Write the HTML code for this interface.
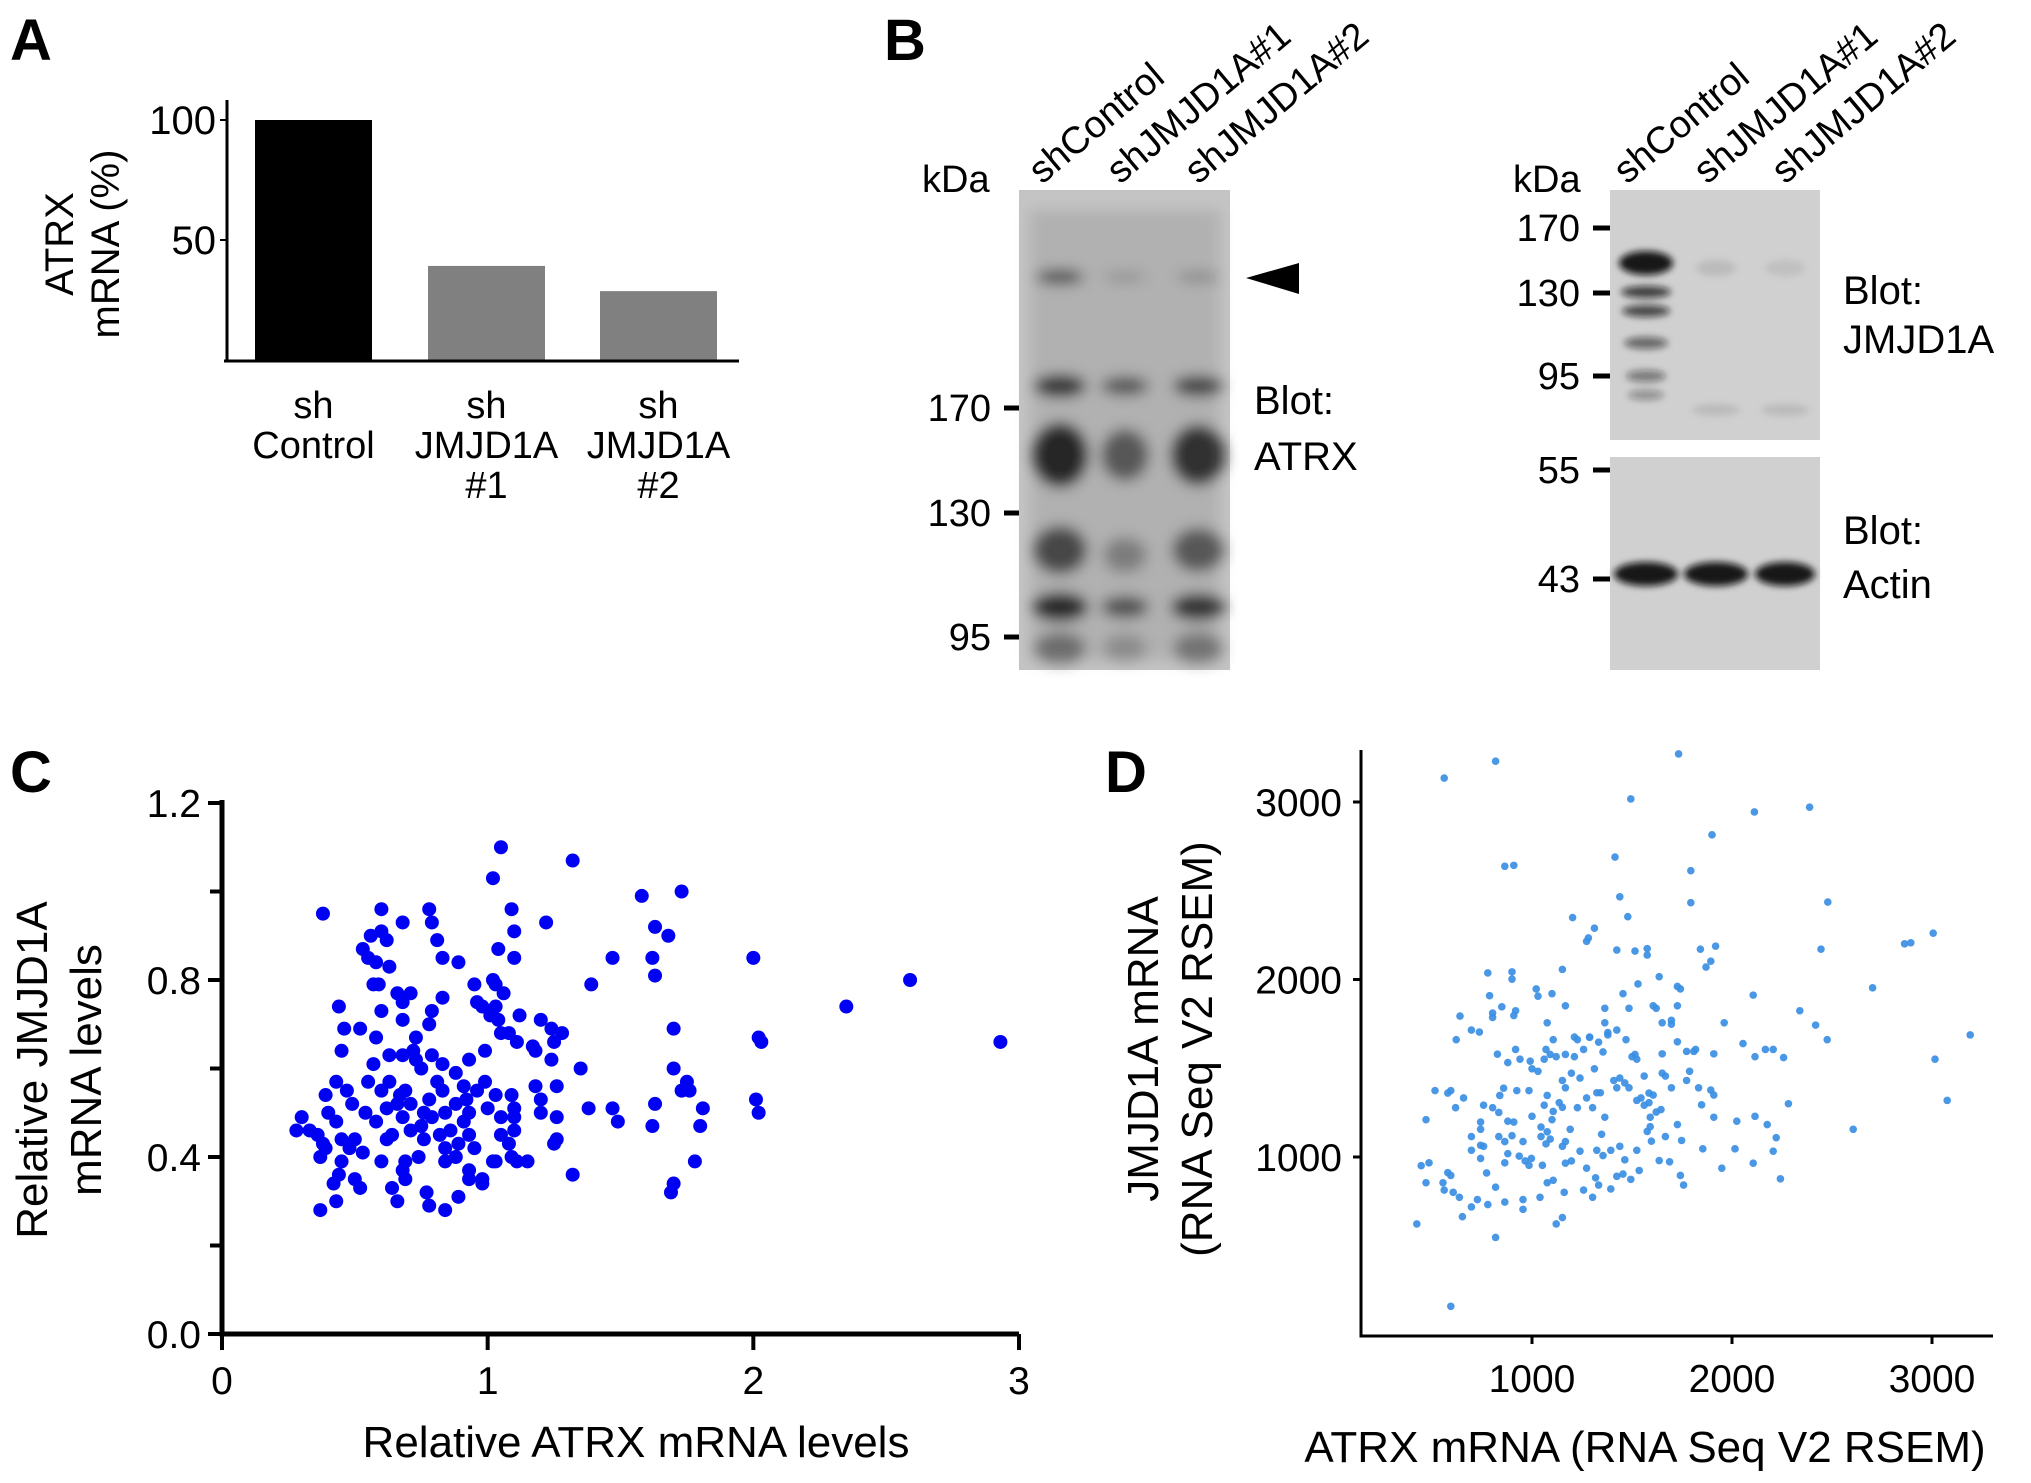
<!DOCTYPE html>
<html><head><meta charset="utf-8"><style>
html,body{margin:0;padding:0;background:#fff;}
svg{display:block;font-family:"Liberation Sans",Arial,sans-serif;}
</style></head><body>
<svg id="fig" width="2031" height="1483" viewBox="0 0 2031 1483" xmlns="http://www.w3.org/2000/svg">
<defs>
<filter id="blur6" x="-50%" y="-50%" width="200%" height="200%"><feGaussianBlur stdDeviation="7"/></filter>
<filter id="blur3" x="-50%" y="-50%" width="200%" height="200%"><feGaussianBlur stdDeviation="3.5"/></filter>
</defs>

<text x="10" y="60" font-size="58" font-weight="bold">A</text>
<text x="884" y="60" font-size="58" font-weight="bold">B</text>
<text x="10" y="792" font-size="58" font-weight="bold">C</text>
<text x="1105" y="792" font-size="58" font-weight="bold">D</text>

<g id="panelA"></g>

<g id="panelB">
  <g>
    <rect x="1019" y="190" width="211" height="480" fill="#c4c4c4"/>
    <g filter="url(#blur6)" fill="#1a1a1a">
      <rect x="1030" y="210" width="190" height="450" fill="#999" opacity="0.45"/>
      <ellipse cx="1060" cy="277" rx="24" ry="7" opacity="0.7"/>
      <ellipse cx="1125" cy="277" rx="22" ry="5" opacity="0.22"/>
      <ellipse cx="1198" cy="277" rx="22" ry="5" opacity="0.3"/>
      <ellipse cx="1060" cy="386" rx="26" ry="11" opacity="0.85"/>
      <ellipse cx="1125" cy="386" rx="24" ry="9" opacity="0.65"/>
      <ellipse cx="1198" cy="386" rx="25" ry="10" opacity="0.75"/>
      <ellipse cx="1060" cy="455" rx="28" ry="32" opacity="0.9"/>
      <ellipse cx="1125" cy="455" rx="24" ry="26" opacity="0.6"/>
      <ellipse cx="1198" cy="455" rx="27" ry="30" opacity="0.85"/>
      <ellipse cx="1060" cy="550" rx="27" ry="24" opacity="0.7"/>
      <ellipse cx="1125" cy="555" rx="22" ry="18" opacity="0.35"/>
      <ellipse cx="1198" cy="550" rx="26" ry="22" opacity="0.6"/>
      <ellipse cx="1060" cy="607" rx="28" ry="14" opacity="0.9"/>
      <ellipse cx="1125" cy="607" rx="24" ry="11" opacity="0.65"/>
      <ellipse cx="1198" cy="607" rx="27" ry="13" opacity="0.85"/>
      <ellipse cx="1060" cy="648" rx="26" ry="16" opacity="0.45"/>
      <ellipse cx="1125" cy="648" rx="22" ry="14" opacity="0.25"/>
      <ellipse cx="1198" cy="648" rx="25" ry="16" opacity="0.4"/>
    </g>
  </g>
  <polygon points="1246,278 1299,263 1299,294" fill="#000"/>
  <text x="922" y="192" font-size="38">kDa</text>
  <g font-size="38" text-anchor="end">
    <text x="991" y="421">170</text><text x="991" y="526">130</text><text x="991" y="650">95</text>
  </g>
  <g stroke="#000" stroke-width="5">
    <line x1="1004" y1="408" x2="1019" y2="408"/><line x1="1004" y1="513" x2="1019" y2="513"/><line x1="1004" y1="637" x2="1019" y2="637"/>
  </g>
  <text x="1254" y="414" font-size="40"><tspan x="1254">Blot:</tspan><tspan x="1254" dy="56">ATRX</tspan></text>
  <g font-size="38">
    <text transform="translate(1042,185) rotate(-40)">shControl</text>
    <text transform="translate(1120,185) rotate(-40)">shJMJD1A#1</text>
    <text transform="translate(1198,185) rotate(-40)">shJMJD1A#2</text>
  </g>

  <g>
    <rect x="1610" y="190" width="210" height="250" fill="#d0d0d0"/>
    <g filter="url(#blur3)" fill="#111">
      <ellipse cx="1646" cy="263" rx="27" ry="12" opacity="0.95"/>
      <ellipse cx="1646" cy="292" rx="25" ry="6" opacity="0.75"/>
      <ellipse cx="1646" cy="311" rx="24" ry="6" opacity="0.7"/>
      <ellipse cx="1646" cy="343" rx="22" ry="6" opacity="0.55"/>
      <ellipse cx="1646" cy="376" rx="20" ry="6" opacity="0.45"/>
      <ellipse cx="1646" cy="395" rx="18" ry="5" opacity="0.35"/>
      <ellipse cx="1716" cy="268" rx="20" ry="8" opacity="0.1"/>
      <ellipse cx="1785" cy="268" rx="20" ry="8" opacity="0.08"/>
      <ellipse cx="1716" cy="410" rx="24" ry="6" opacity="0.1"/>
      <ellipse cx="1785" cy="410" rx="24" ry="6" opacity="0.1"/>
    </g>
    <rect x="1610" y="457" width="210" height="213" fill="#d0d0d0"/>
    <g filter="url(#blur3)" fill="#0d0d0d">
      <ellipse cx="1646" cy="574" rx="32" ry="12" opacity="0.95"/>
      <ellipse cx="1716" cy="574" rx="32" ry="12" opacity="0.95"/>
      <ellipse cx="1785" cy="574" rx="30" ry="12" opacity="0.95"/>
    </g>
  </g>
  <text x="1513" y="192" font-size="38">kDa</text>
  <g font-size="38" text-anchor="end">
    <text x="1580" y="241">170</text><text x="1580" y="306">130</text><text x="1580" y="389">95</text>
    <text x="1580" y="483">55</text><text x="1580" y="592">43</text>
  </g>
  <g stroke="#000" stroke-width="5">
    <line x1="1593" y1="228" x2="1610" y2="228"/><line x1="1593" y1="293" x2="1610" y2="293"/><line x1="1593" y1="376" x2="1610" y2="376"/>
    <line x1="1593" y1="470" x2="1610" y2="470"/><line x1="1593" y1="579" x2="1610" y2="579"/>
  </g>
  <text font-size="40"><tspan x="1843" y="304">Blot:</tspan><tspan x="1843" y="353">JMJD1A</tspan></text>
  <text font-size="40"><tspan x="1843" y="544">Blot:</tspan><tspan x="1843" y="598">Actin</tspan></text>
  <g font-size="38">
    <text transform="translate(1627,185) rotate(-40)">shControl</text>
    <text transform="translate(1707,185) rotate(-40)">shJMJD1A#1</text>
    <text transform="translate(1785,185) rotate(-40)">shJMJD1A#2</text>
  </g>
</g>

<g id="panelC"></g>
<g id="panelD"></g>
</svg>

<script>
// ---------- Panel A data ----------
const aCategories = [["sh","Control"],["sh","JMJD1A","#1"],["sh","JMJD1A","#2"]];
const aValues = [100, 39.2, 28.7];
const aColors = ["#000000","#808080","#808080"];
const aTicks = [50, 100];

// ---------- Panel C data ----------
const cX = [1.05,1.02,1.32,1.58,1.73,0.38,0.60,0.68,0.78,0.79,1.09,1.10,1.22,1.47,1.63,1.68,1.62,1.63,2.00,1.39,2.35,2.59,2.93,1.70,2.02,2.03,1.35,1.70,1.75,1.76,1.73,1.38,1.47,1.49,1.63,1.62,1.81,1.80,1.78,1.70,1.69,2.01,2.02,1.32,1.04,1.10,0.89,0.81,0.83,1.02,1.06,1.03,0.95,0.96,1.12,1.20,1.28,1.25,1.18,1.11,0.99,1.05,0.83,0.79,0.71,0.68,0.66,0.59,0.57,0.53,0.55,0.58,0.60,0.56,0.62,0.44,0.46,0.45,0.52,0.58,0.63,0.57,0.55,0.60,0.63,0.67,0.73,0.78,0.72,0.73,0.75,0.79,0.83,0.81,0.83,0.78,0.71,0.69,0.66,0.62,0.54,0.58,0.62,0.64,0.71,0.68,0.76,0.75,0.79,0.82,0.84,0.91,0.93,0.88,0.92,0.96,0.99,1.03,1.00,1.05,1.05,1.08,1.09,1.03,1.02,0.98,0.98,0.93,0.93,0.95,0.93,0.89,0.88,0.84,0.84,0.86,0.76,0.74,0.69,0.68,0.69,0.64,0.66,0.77,0.78,0.84,0.89,0.43,0.37,0.37,0.42,0.44,0.50,0.52,0.48,0.50,0.45,0.43,0.40,0.39,0.43,0.47,0.49,0.36,0.38,0.33,0.28,0.30,0.39,0.45,0.53,0.60,1.03,1.04,0.98,1.01,1.08,1.17,1.24,1.24,1.26,1.26,1.26,1.25,1.20,1.18,1.20,1.11,1.15,1.09,1.10,1.10,1.10,0.93,0.91,0.88,0.68,0.63,0.60,0.68];
const cY = [1.10,1.03,1.07,0.99,1.00,0.95,0.96,0.93,0.96,0.93,0.96,0.91,0.93,0.85,0.92,0.90,0.85,0.81,0.85,0.79,0.74,0.80,0.66,0.69,0.67,0.66,0.60,0.60,0.57,0.55,0.55,0.51,0.51,0.48,0.52,0.47,0.51,0.47,0.39,0.34,0.32,0.53,0.50,0.36,0.87,0.85,0.84,0.89,0.85,0.80,0.77,0.79,0.79,0.75,0.72,0.71,0.68,0.66,0.64,0.66,0.64,0.68,0.76,0.73,0.77,0.75,0.77,0.79,0.79,0.87,0.85,0.84,0.91,0.90,0.89,0.74,0.69,0.64,0.69,0.67,0.63,0.61,0.57,0.55,0.57,0.54,0.67,0.70,0.64,0.62,0.60,0.63,0.61,0.57,0.55,0.53,0.52,0.55,0.52,0.51,0.50,0.48,0.44,0.45,0.46,0.49,0.50,0.47,0.49,0.45,0.50,0.48,0.50,0.52,0.53,0.55,0.57,0.54,0.51,0.49,0.45,0.43,0.40,0.39,0.39,0.35,0.34,0.35,0.37,0.42,0.45,0.43,0.40,0.39,0.42,0.46,0.44,0.40,0.39,0.37,0.35,0.33,0.30,0.32,0.29,0.28,0.31,0.30,0.28,0.40,0.34,0.36,0.35,0.33,0.42,0.44,0.44,0.48,0.50,0.54,0.57,0.55,0.52,0.45,0.43,0.46,0.46,0.49,0.42,0.39,0.41,0.39,0.74,0.71,0.74,0.72,0.68,0.65,0.69,0.62,0.56,0.49,0.44,0.43,0.53,0.56,0.50,0.39,0.39,0.54,0.51,0.49,0.46,0.62,0.56,0.59,0.63,0.83,0.73,0.71];
const cXTicks = [0,1,2,3];
const cYTicks = ["0.0","0.4","0.8","1.2"];
const cYMinor = [0.2,0.6,1.0];

// ---------- Panel D data ----------
const dX = [561,818,1733,1494,2112,2388,1900,1415,864,909,1794,1439,1794,2479,1479,1203,1312,1282,1273,1424,1515,1576,1576,1842,1918,1894,1870,2445,2863,2894,3006,2703,2106,2339,2418,2476,3191,3015,3076,2606,2282,2258,2206,2167,2115,2055,2176,2115,2024,2015,2106,2206,2221,2242,1949,1854,1727,1748,1688,1758,1742,1667,1591,1524,1536,1494,1455,1424,1464,1439,1394,1324,1348,1364,1303,1273,1227,1191,1167,1152,1197,1167,1240,1273,1318,1333,1303,1258,1394,1161,1106,1076,1052,985,936,966,997,864,879,864,834,758,743,773,818,864,955,955,1040,779,727,697,637,606,594,561,555,470,446,652,424,818,1121,1152,594,470,594,579,618,658,697,743,697,743,743,758,803,834,839,858,924,985,909,879,900,955,1000,1045,1076,1091,1070,1045,1100,1106,1136,1076,1061,1000,1030,1061,1091,1121,1070,1106,1167,1212,1227,1288,1258,1312,1333,1355,1379,1409,1439,1464,1424,1485,1524,1545,1585,1561,1585,1561,1524,1500,1515,1470,1424,1379,1364,1364,1455,1485,1530,1606,1636,1621,1651,1697,1742,1727,1727,1697,1727,1773,1809,1818,1788,1773,1833,1894,1909,1848,1909,1909,1961,1651,1651,1667,1606,1697,1645,1621,1591,1576,1597,1636,1355,1324,1342,1152,1167,1197,1240,1152,1212,1288,1167,1076,1100,1030,1021,1152,900,918,909,849,803,900,779,788,737,697,621,640,803,827,879,918,940,991,515,485,579];
const dY = [3135,3230,3271,3017,2944,2971,2815,2690,2638,2643,2613,2466,2433,2436,2354,2349,2289,2234,2215,2166,2160,2174,2138,2171,2188,2103,2070,2171,2201,2207,2261,1953,1912,1824,1743,1661,1688,1551,1319,1156,1300,1560,1606,1606,1565,1639,1183,1229,1202,1046,965,1033,1109,877,937,1046,1183,1093,973,842,896,1115,1224,1038,924,874,904,891,984,1060,1038,1038,1128,1224,1278,1333,1278,1156,1087,1060,978,965,1033,937,883,842,773,814,820,801,869,855,953,953,1005,978,992,967,1019,1087,1115,1060,992,910,830,746,760,705,773,732,760,719,773,801,896,814,855,855,951,664,623,547,623,659,159,1210,1374,1360,1278,1333,1038,1066,1115,1197,1156,1292,1278,1251,1347,1388,1374,1374,1197,1202,1120,1087,1229,1169,1142,1101,1074,1115,1210,1257,1306,1347,1292,1497,1483,1551,1578,1565,1606,1661,1578,1565,1661,1674,1606,1497,1647,1592,1688,1431,1445,1417,1390,1390,1319,1333,1306,1292,1360,1456,1551,1565,1578,1661,1715,1701,1756,1838,1920,1838,1975,1852,2016,1838,1756,1748,1947,1961,1852,1770,1649,1595,1595,1606,1483,1431,1390,1377,1349,1294,1224,1581,1756,1472,1581,1456,1349,1390,1267,1253,1171,1144,1089,980,1008,1362,1362,1280,1390,1472,1445,1431,1676,1676,1852,1756,1920,1906,1947,2057,2002,1824,1797,1846,1811,2043,2037,1909,1704,1715,1661,1794,1786,1579,1532,1606,1551,1540,1374,967,912,830];
const dXTicks = [1000,2000,3000];
const dYTicks = [1000,2000,3000];

const NS = "http://www.w3.org/2000/svg";
function mk(parent, tag, attrs, text) {
  const e = document.createElementNS(NS, tag);
  for (const k in attrs) e.setAttribute(k, attrs[k]);
  if (text !== undefined) e.textContent = text;
  parent.appendChild(e);
  return e;
}

(function(){
  const g = document.getElementById('panelA');
  const y = v => 360 - v * 2.4;
  const barX = [255, 428, 600], barW = 117;
  aValues.forEach((v, i) => {
    const r = mk(g, 'rect', {x: barX[i], y: y(v), width: barW, height: 360 - y(v), fill: aColors[i]});
    
    
    const t = mk(g, 'text', {'font-size': 38, 'text-anchor': 'middle'});
    
    
    aCategories[i].forEach((line, j) => {
      mk(t, 'tspan', {x: barX[i] + barW / 2, y: 418 + j * 40}, line);
    });
  });
  const ax = mk(g, 'path', {d: 'M227,100 V361 M224,361 H739', stroke: '#000', 'stroke-width': 3, fill: 'none'});
  
  
  aTicks.forEach(v => {
    mk(g, 'line', {x1: 220, x2: 227, y1: y(v), y2: y(v), stroke: '#000', 'stroke-width': 2});
    const t = mk(g, 'text', {x: 216, y: y(v) + 14, 'font-size': 40, 'text-anchor': 'end'}, String(v));
    
    
  });
  const yt = mk(g, 'text', {transform: 'translate(83,244) rotate(-90)', 'font-size': 40, 'text-anchor': 'middle'});
  
  
  mk(yt, 'tspan', {x: 0, y: -10}, 'ATRX');
  mk(yt, 'tspan', {x: 0, y: 36}, 'mRNA (%)');
})();

(function(){
  const g = document.getElementById('panelC');
  const x = v => 222 + v * (1019 - 222) / 3;
  const y = v => 1334 - v * (1334 - 803) / 1.2;
  cX.forEach((v, i) => {
    const c = mk(g, 'circle', {cx: x(v), cy: y(cY[i]), r: 7, fill: '#0000f2'});
    
    
  });
  const ax = mk(g, 'path', {d: 'M222,800 V1334 H1019', stroke: '#000', 'stroke-width': 5, fill: 'none'});
  
  
  cYTicks.forEach(s => {
    const v = parseFloat(s);
    mk(g, 'line', {x1: 208, x2: 222, y1: y(v), y2: y(v), stroke: '#000', 'stroke-width': 4});
    const t = mk(g, 'text', {x: 201, y: y(v) + 14, 'font-size': 39, 'text-anchor': 'end'}, s);
    
    
  });
  cYMinor.forEach(v => mk(g, 'line', {x1: 210, x2: 222, y1: y(v), y2: y(v), stroke: '#000', 'stroke-width': 4}));
  cXTicks.forEach(v => {
    mk(g, 'line', {x1: x(v), x2: x(v), y1: 1334, y2: 1350, stroke: '#000', 'stroke-width': 4});
    const t = mk(g, 'text', {x: x(v), y: 1394, 'font-size': 39, 'text-anchor': 'middle'}, String(v));
    
    
  });
  const xt = mk(g, 'text', {x: 636, y: 1457, 'font-size': 44, 'text-anchor': 'middle'}, 'Relative ATRX mRNA levels');
  
  
  const yt = mk(g, 'text', {transform: 'translate(60,1070) rotate(-90)', 'font-size': 44, 'text-anchor': 'middle'});
  
  
  mk(yt, 'tspan', {x: 0, y: -13}, 'Relative JMJD1A');
  mk(yt, 'tspan', {x: 0, y: 41}, 'mRNA levels');
})();

(function(){
  const g = document.getElementById('panelD');
  const x = v => 1532 + (v - 1000) * 0.2;
  const y = v => 1157 - (v - 1000) * 0.1775;
  dX.forEach((v, i) => {
    const c = mk(g, 'circle', {cx: x(v), cy: y(dY[i]), r: 3.8, fill: '#3b8fe3', 'fill-opacity': 0.92});
    
    
  });
  const ax = mk(g, 'path', {d: 'M1361,750 V1336 H1993', stroke: '#000', 'stroke-width': 3, fill: 'none'});
  
  
  dYTicks.forEach(v => {
    mk(g, 'line', {x1: 1353, x2: 1361, y1: y(v), y2: y(v), stroke: '#000', 'stroke-width': 3});
    const t = mk(g, 'text', {x: 1342, y: y(v) + 14, 'font-size': 39, 'text-anchor': 'end'}, String(v));
    
    
  });
  dXTicks.forEach(v => {
    mk(g, 'line', {x1: x(v), x2: x(v), y1: 1336, y2: 1344, stroke: '#000', 'stroke-width': 3});
    const t = mk(g, 'text', {x: x(v), y: 1392, 'font-size': 39, 'text-anchor': 'middle'}, String(v));
    
    
  });
  const xt = mk(g, 'text', {x: 1645, y: 1462, 'font-size': 44, 'text-anchor': 'middle'}, 'ATRX mRNA (RNA Seq V2 RSEM)');
  
  
  const yt = mk(g, 'text', {transform: 'translate(1171,1049) rotate(-90)', 'font-size': 44, 'text-anchor': 'middle'});
  
  
  mk(yt, 'tspan', {x: 0, y: -13}, 'JMJD1A mRNA');
  mk(yt, 'tspan', {x: 0, y: 41}, '(RNA Seq V2 RSEM)');
})();
</script>
</body></html>
